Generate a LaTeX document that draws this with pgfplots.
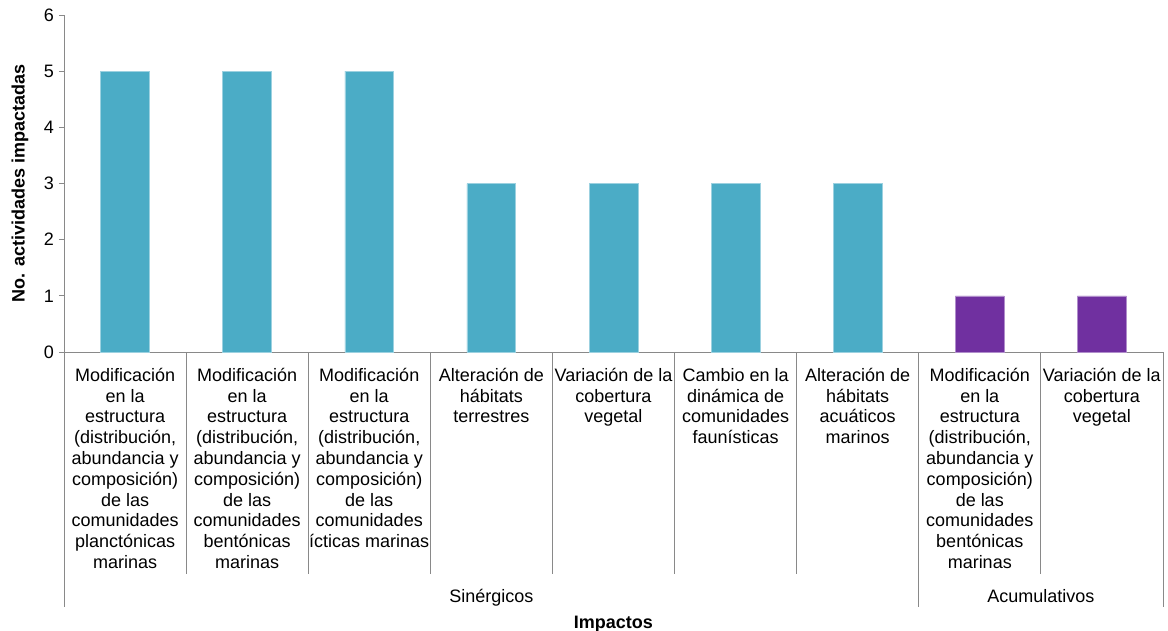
\documentclass[border=0pt]{standalone}
\usepackage{fontspec}
\setmainfont{Liberation Sans}
\usepackage{pgfplots}
\pgfplotsset{compat=1.18}
\definecolor{barteal}{HTML}{4BACC6}
\definecolor{barpurple}{HTML}{7030A0}
\definecolor{axgray}{HTML}{898989}
\newcommand{\fl}{\rule{0pt}{17bp}}
\begin{document}
\fontsize{18bp}{20.8bp}\selectfont
\begin{tikzpicture}
\useasboundingbox (-64bp,-279bp) rectangle (1104bp,352bp);
\begin{axis}[
  scale only axis, width=1099bp, height=337bp,
  xmin=-0.5, xmax=8.5, ymin=0, ymax=6,
  axis x line*=bottom, axis y line*=left,
  axis line style={-, axgray, line width=0.8bp},
  ytick={0,...,6}, xtick={0,...,8},
  tick align=outside, major tick length=5bp,
  ytick style={axgray, line width=0.8bp},
  xtick style={draw=none},
  /pgf/number format/assume math mode=true,
  yticklabel style={anchor=east, xshift=1bp},
  xticklabel style={anchor=north, align=center, yshift=-1bp},
  xticklabels={
    {\fl Modificación\\en la\\estructura\\(distribución,\\abundancia y\\composición)\\de las\\comunidades\\planctónicas\\marinas},
    {\fl Modificación\\en la\\estructura\\(distribución,\\abundancia y\\composición)\\de las\\comunidades\\bentónicas\\marinas},
    {\fl Modificación\\en la\\estructura\\(distribución,\\abundancia y\\composición)\\de las\\comunidades\\ícticas marinas},
    {\fl Alteración de\\hábitats\\terrestres},
    {\fl Variación de la\\cobertura\\vegetal},
    {\fl Cambio en la\\dinámica de\\comunidades\\faunísticas},
    {\fl Alteración de\\hábitats\\acuáticos\\marinos},
    {\fl Modificación\\en la\\estructura\\(distribución,\\abundancia y\\composición)\\de las\\comunidades\\bentónicas\\marinas},
    {\fl Variación de la\\cobertura\\vegetal}
  },
  clip=false,
]
\addplot[ybar, bar width=0.4, bar shift=0pt, fill=barteal, draw=barteal!55!white, line width=0.6bp]
  coordinates {(0,5) (1,5) (2,5) (3,3) (4,3) (5,3) (6,3)};
\addplot[ybar, bar width=0.4, bar shift=0pt, fill=barpurple, draw=barpurple!55!white, line width=0.6bp]
  coordinates {(7,1) (8,1)};
\draw[axgray, line width=0.8bp] (axis cs:0.5,0) -- ([yshift=-222bp]axis cs:0.5,0);
\draw[axgray, line width=0.8bp] (axis cs:1.5,0) -- ([yshift=-222bp]axis cs:1.5,0);
\draw[axgray, line width=0.8bp] (axis cs:2.5,0) -- ([yshift=-222bp]axis cs:2.5,0);
\draw[axgray, line width=0.8bp] (axis cs:3.5,0) -- ([yshift=-222bp]axis cs:3.5,0);
\draw[axgray, line width=0.8bp] (axis cs:4.5,0) -- ([yshift=-222bp]axis cs:4.5,0);
\draw[axgray, line width=0.8bp] (axis cs:5.5,0) -- ([yshift=-222bp]axis cs:5.5,0);
\draw[axgray, line width=0.8bp] (axis cs:7.5,0) -- ([yshift=-222bp]axis cs:7.5,0);
\draw[axgray, line width=0.8bp] (axis cs:-0.5,0) -- ([yshift=-255bp]axis cs:-0.5,0);
\draw[axgray, line width=0.8bp] (axis cs:6.5,0) -- ([yshift=-255bp]axis cs:6.5,0);
\draw[axgray, line width=0.8bp] (axis cs:8.5,0) -- ([yshift=-255bp]axis cs:8.5,0);
\node[anchor=base] at ([yshift=-250bp]axis cs:3,0) {Sinérgicos};
\node[anchor=base] at ([yshift=-250bp]axis cs:7.5,0) {Acumulativos};
\node[anchor=base, font=\bfseries] at ([yshift=-276bp]axis cs:4,0) {Impactos};
\node[rotate=90, font=\bfseries] at ([xshift=-44bp]rel axis cs:0,0.5) {No. actividades impactadas};
\end{axis}
\end{tikzpicture}
\end{document}
